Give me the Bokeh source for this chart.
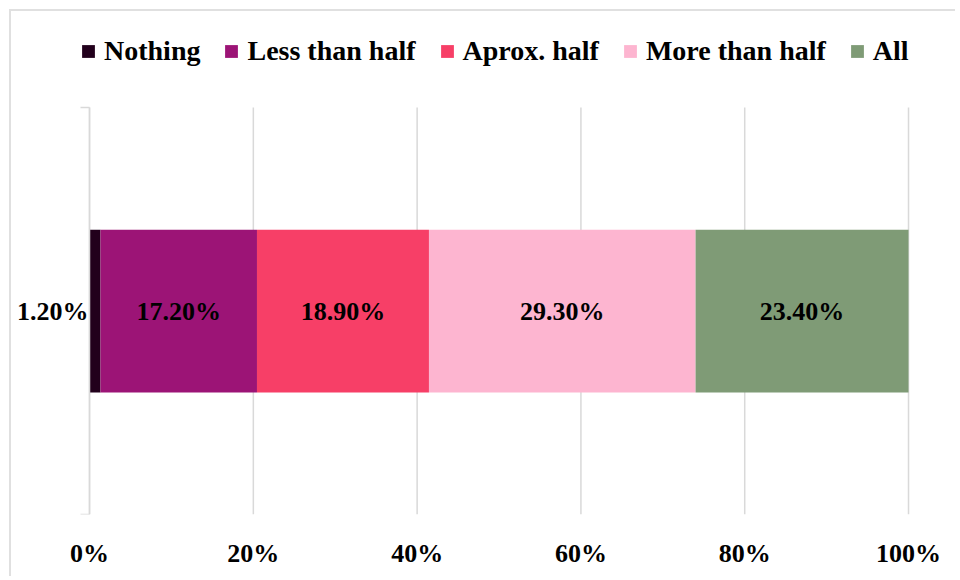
from bokeh.plotting import figure
from bokeh.models import (Range1d, FixedTicker, NumeralTickFormatter, ColumnDataSource,
                          Legend, LegendItem)
from bokeh.core.properties import value
from bokeh.embed import file_html
from bokeh.resources import INLINE

categories = ["Nothing", "Less than half", "Aprox. half", "More than half", "All"]
shares = [1.2, 17.2, 18.9, 29.3, 23.4]
colors = ["#22001C", "#9C1476", "#F73F67", "#FDB5D0", "#7F9B76"]
x_ticks = [0, 0.2, 0.4, 0.6, 0.8, 1.0]

FONT = "Liberation Serif"

total = sum(shares)
lefts, rights = [], []
acc = 0.0
for s in shares:
    lefts.append(acc / total)
    acc += s
    rights.append(acc / total)

p = figure(width=946, height=567, output_backend="svg", toolbar_location=None,
           x_range=Range1d(-0.0904, 1.0537), y_range=Range1d(0, 1.236))
p.min_border_left = 4
p.min_border_right = 5
p.min_border_top = 0
p.min_border_bottom = 64
p.outline_line_color = None
p.background_fill_color = "white"
p.border_fill_color = "white"
p.styles = {"margin-left": "9px", "margin-top": "9px",
            "border-top": "2px solid #e0e0e0", "border-left": "2px solid #e0e0e0"}

# grid lines drawn only across the category band
p.xgrid.grid_line_color = None
p.ygrid.grid_line_color = None
p.segment(x0=x_ticks, x1=x_ticks, y0=[0] * len(x_ticks), y1=[1] * len(x_ticks),
          line_color="#d9d9d9", line_width=1.5)

# x axis
p.xaxis.ticker = FixedTicker(ticks=x_ticks)
p.xaxis.formatter = NumeralTickFormatter(format="0%")
p.xaxis.axis_line_color = None
p.xaxis.major_tick_line_color = None
p.xaxis.minor_tick_line_color = None
p.xaxis.major_label_text_font = FONT
p.xaxis.major_label_text_font_style = "bold"
p.xaxis.major_label_text_font_size = "26px"
p.xaxis.major_label_text_color = "black"
p.xaxis.major_label_standoff = 18

# y axis (category boundary ticks only)
p.yaxis.fixed_location = 0
p.yaxis.bounds = (0, 1)
p.yaxis.ticker = FixedTicker(ticks=[0, 1])
p.yaxis.axis_line_color = "#d9d9d9"
p.yaxis.axis_line_width = 1.5
p.yaxis.major_tick_line_color = "#d9d9d9"
p.yaxis.major_tick_line_width = 1.5
p.yaxis.major_tick_out = 9
p.yaxis.major_tick_in = 0
p.yaxis.minor_tick_line_color = None
p.yaxis.major_label_text_color = None
p.yaxis.major_label_standoff = 0

items = []
for i, c in enumerate(categories):
    r = p.hbar(y=0.5, left=lefts[i], right=rights[i], height=0.4,
               fill_color=colors[i], line_color=None)
    items.append(LegendItem(label=c, renderers=[r]))

# data labels
mid_src = ColumnDataSource(dict(x=[(l + r) / 2 for l, r in zip(lefts[1:], rights[1:])],
                                y=[0.5] * (len(shares) - 1),
                                t=[f"{s:.2f}%" for s in shares[1:]]))
p.text(x="x", y="y", text="t", source=mid_src, text_align="center", text_baseline="middle",
       text_font=value(FONT), text_font_style="bold", text_font_size="26px", text_color="black")
first_src = ColumnDataSource(dict(x=[lefts[0]], y=[0.5], t=[f"{shares[0]:.2f}%"]))
p.text(x="x", y="y", text="t", source=first_src, text_align="right", text_baseline="middle",
       x_offset=-1, text_font=value(FONT), text_font_style="bold", text_font_size="26px",
       text_color="black")

legend = Legend(items=items, orientation="horizontal", location=(65, 447))
legend.label_text_font = FONT
legend.label_text_font_style = "bold"
legend.label_text_font_size = "28px"
legend.label_text_color = "black"
legend.glyph_width = 16
legend.glyph_height = 16
legend.label_standoff = 8
legend.spacing = 23
legend.padding = 0
legend.margin = 0
legend.border_line_color = None
legend.background_fill_alpha = 0
p.add_layout(legend, "center")

open("out.html", "w").write(file_html(p, INLINE))
